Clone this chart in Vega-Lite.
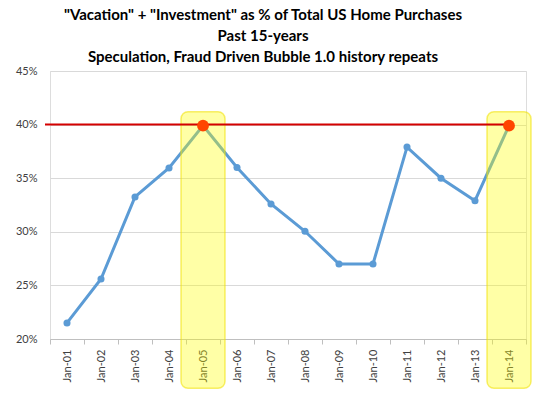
{
  "$schema": "https://vega.github.io/schema/vega-lite/v6.json",
  "width": 476,
  "height": 268,
  "autosize": {"type": "none"},
  "padding": {"left": 50, "top": 71, "right": 15, "bottom": 55},
  "background": "white",
  "title": {
    "text": ["\"Vacation\" + \"Investment\" as % of Total US Home Purchases", "Past 15-years", "Speculation, Fraud Driven Bubble 1.0 history repeats"],
    "font": "Lato",
    "fontSize": 15,
    "fontWeight": "bold",
    "color": "#000000",
    "lineHeight": 21,
    "anchor": "middle",
    "dx": -25,
    "offset": 0
  },
  "datasets": {
    "series": [
      {"month": "Jan-01", "share": 0.215},
      {"month": "Jan-02", "share": 0.256},
      {"month": "Jan-03", "share": 0.3325},
      {"month": "Jan-04", "share": 0.3595},
      {"month": "Jan-05", "share": 0.399},
      {"month": "Jan-06", "share": 0.36},
      {"month": "Jan-07", "share": 0.326},
      {"month": "Jan-08", "share": 0.3005},
      {"month": "Jan-09", "share": 0.27},
      {"month": "Jan-10", "share": 0.27},
      {"month": "Jan-11", "share": 0.379},
      {"month": "Jan-12", "share": 0.35},
      {"month": "Jan-13", "share": 0.329},
      {"month": "Jan-14", "share": 0.399}
    ],
    "highlights": [
      {"month": "Jan-05", "share": 0.399, "top": 0.412, "bottom": 0.154},
      {"month": "Jan-14", "share": 0.399, "top": 0.412, "bottom": 0.154}
    ],
    "threshold": [
      {"start": "Jan-01", "end": "Jan-14", "level": 0.40}
    ]
  },
  "encoding": {
    "x": {
      "field": "month",
      "type": "ordinal",
      "sort": null,
      "scale": {"domain": ["Jan-01","Jan-02","Jan-03","Jan-04","Jan-05","Jan-06","Jan-07","Jan-08","Jan-09","Jan-10","Jan-11","Jan-12","Jan-13","Jan-14"], "paddingInner": 0, "paddingOuter": 0},
      "axis": {
        "title": null,
        "labelAngle": -90,
        "labelFont": "Lato",
        "labelFontSize": 11,
        "labelColor": "#404040",
        "labelPadding": 5,
        "domainColor": "#bfbfbf",
        "tickColor": "#bfbfbf",
        "tickBand": "extent",
        "tickSize": 5,
        "grid": false
      }
    }
  },
  "layer": [
    {
      "data": {"name": "series"},
      "mark": {"type": "line", "color": "#5b9bd5", "strokeWidth": 3, "point": {"filled": true, "size": 50, "color": "#5b9bd5"}},
      "encoding": {
        "y": {
          "field": "share",
          "type": "quantitative",
          "scale": {"domain": [0.2, 0.45], "nice": false, "zero": false},
          "axis": {
            "title": null,
            "format": ".0%",
            "values": [0.2, 0.25, 0.3, 0.35, 0.4, 0.45],
            "labelFont": "Lato",
            "labelFontSize": 11,
            "labelColor": "#404040",
            "labelPadding": 13,
            "ticks": false,
            "domain": false,
            "grid": true,
            "gridColor": "#d9d9d9"
          }
        }
      }
    },
    {
      "data": {"name": "highlights"},
      "mark": {"type": "bar", "width": 44, "clip": false, "fill": "#ffff00", "fillOpacity": 0.35, "stroke": "#f0e000", "strokeOpacity": 0.55, "strokeWidth": 1.5, "cornerRadius": 7},
      "encoding": {
        "y": {"field": "top", "type": "quantitative"},
        "y2": {"field": "bottom"}
      }
    },
    {
      "data": {"name": "threshold"},
      "mark": {"type": "rule", "color": "#d40000", "strokeWidth": 2, "xOffset": -5},
      "encoding": {
        "x": {"field": "start", "type": "ordinal", "bandPosition": 0},
        "x2": {"field": "end"},
        "y": {"field": "level", "type": "quantitative"}
      }
    },
    {
      "data": {"name": "highlights"},
      "mark": {"type": "point", "filled": true, "size": 140, "color": "#ff4500", "opacity": 1},
      "encoding": {
        "y": {"field": "share", "type": "quantitative"}
      }
    }
  ]
}
